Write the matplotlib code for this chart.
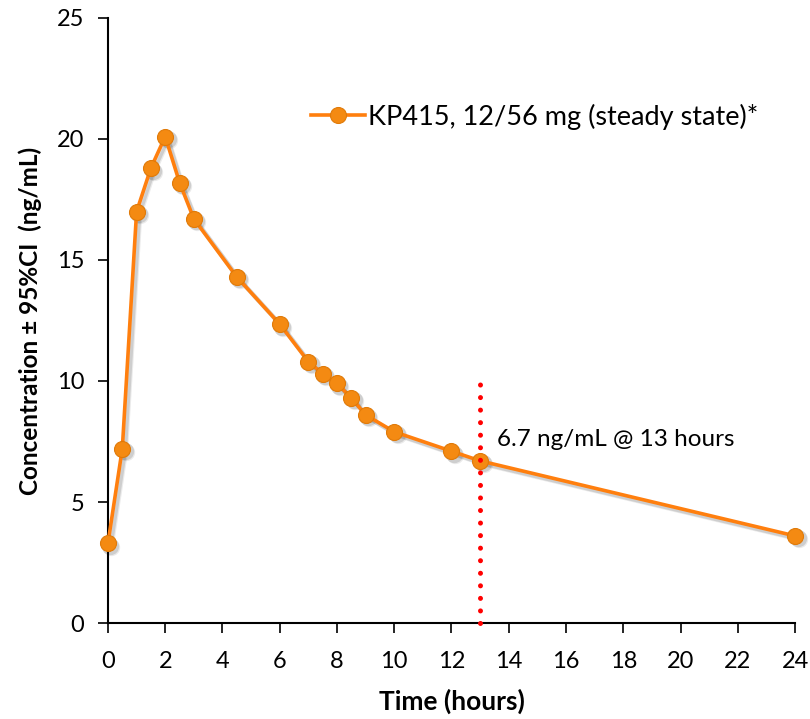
import matplotlib.pyplot as plt
import matplotlib.transforms as mtransforms
import numpy as np

plt.rcParams['font.family'] = ['Lato', 'DejaVu Sans']

# mean plasma concentration over the dosing interval
time_h = [0, 0.5, 1, 1.5, 2, 2.5, 3, 4.5, 6, 7, 7.5, 8, 8.5, 9, 10, 12, 13, 24]
conc = [3.3, 7.2, 17.0, 18.8, 20.1, 18.2, 16.7, 14.3, 12.35, 10.8, 10.3, 9.9,
        9.3, 8.6, 7.9, 7.1, 6.7, 3.6]
series_label = 'KP415, 12/56 mg (steady state)*'
marker_time = 13
marker_top = 10
note = '6.7 ng/mL @ 13 hours'

fig = plt.figure(figsize=(8.10, 7.19), dpi=100)
ax = fig.add_axes([0.1333, 0.1335, 0.8482, 0.8415])

# soft drop shadow under the curve
for dx, a in [(2.5, 0.12), (3.5, 0.08)]:
    shift = mtransforms.offset_copy(ax.transData, fig=fig, x=dx, y=-dx, units='dots')
    ax.plot(time_h, conc, color='black', alpha=a, lw=3.2, marker='o', markersize=12.5,
            markeredgewidth=0, transform=shift, zorder=2, clip_on=False)

ax.plot(time_h, conc, color='#FF7F0E', lw=2.6, marker='o', markersize=11.5,
        markerfacecolor='#F48A12', markeredgecolor='#E07A08', markeredgewidth=0.8,
        label=series_label, zorder=3, clip_on=False)

ax.plot([marker_time, marker_time], [0, marker_top], color='#FF0000', lw=3.6,
        linestyle=(0, (0.01, 2.5)), dash_capstyle='round', zorder=4, clip_on=False)
ax.text(13.6, 7.6, note, fontsize=17.5, va='center', ha='left')

ax.set_xlim(0, 24)
ax.set_ylim(0, 25)
ax.set_xticks(np.arange(0, 25, 2))
ax.set_yticks(np.arange(0, 26, 5))
ax.tick_params(axis='both', labelsize=17, direction='out', length=7, width=1.2)
ax.tick_params(axis='x', pad=13)
ax.tick_params(axis='y', pad=10)
for side in ['top', 'right']:
    ax.spines[side].set_visible(False)
for side in ['left', 'bottom']:
    ax.spines[side].set_linewidth(1.5)

ax.set_xlabel('Time (hours)', fontsize=19, fontweight='bold', labelpad=12)
ax.set_ylabel('Concentration \u00b1 95%CI  (ng/mL)', fontsize=17.5,
              fontweight='bold', labelpad=11)

leg = ax.legend(loc='center left', bbox_to_anchor=(0.26, 0.837), frameon=False,
                fontsize=19.5, handlelength=2.0, handletextpad=0.1, markerscale=1.0)

fig.savefig('out.png', dpi=100)
